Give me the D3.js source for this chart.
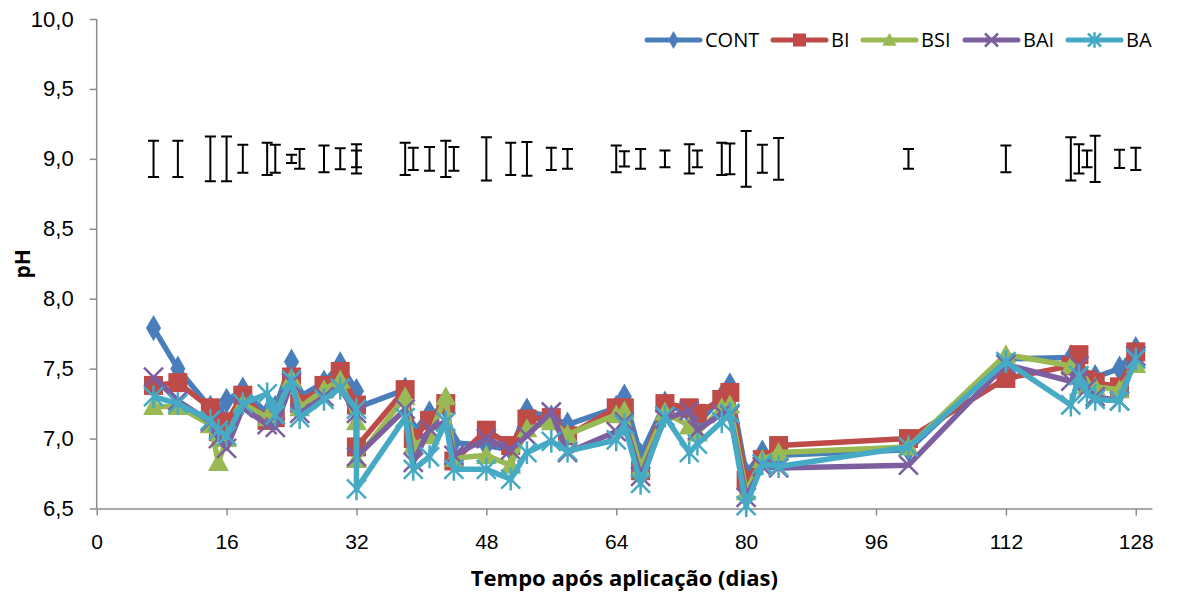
<!DOCTYPE html>
<html>
<head>
<meta charset="utf-8">
<script src="https://cdn.jsdelivr.net/npm/d3@7"></script>
<style>
  body { margin: 0; background: #fff; }
  svg { display: block; font-family: "Open Sans", "Noto Sans", sans-serif; }
  .axis path, .axis line { stroke: #8c8c8c; stroke-width: 1.5; }
  .axis text { fill: #000; }
  .y-axis text { font-size: 22px; }
  .x-axis text { font-size: 21px; }
</style>
</head>
<body>
<div class="chart"></div>
<script>
// sampling days (day 32 was sampled twice)
const days = [7, 10, 14, 15, 16, 18, 21, 22, 24, 25, 28, 30, 32, 32, 38, 39, 41, 43, 44, 48,
  51, 53, 56, 58, 64, 65, 67, 70, 73, 74, 77, 78, 80, 82, 84, 100, 112, 120, 121, 122, 123, 126, 128];

const cont = [7.79, 7.50, 7.22, 7.18, 7.27, 7.35, 7.18, 7.22, 7.55, 7.30, 7.40, 7.53, 7.34, 7.22, 7.35, 7.05, 7.18, 7.22, 6.97, 6.95,
  6.92, 7.20, 7.15, 7.10, 7.22, 7.30, 6.88, 7.25, 7.18, 7.10, 7.30, 7.38, 6.75, 6.90, 6.88, 6.92, 7.57, 7.58, 7.50, 7.42, 7.44, 7.50, 7.64];
const bi = [7.38, 7.40, 7.22, 7.05, 7.12, 7.31, 7.13, 7.15, 7.44, 7.25, 7.38, 7.48, 7.24, 6.94, 7.35, 7.00, 7.13, 7.25, 6.84, 7.06,
  6.95, 7.14, 7.15, 7.02, 7.22, 7.22, 6.77, 7.25, 7.22, 7.18, 7.28, 7.33, 6.70, 6.85, 6.95, 7.00, 7.43, 7.52, 7.60, 7.42, 7.40, 7.37, 7.62];
const bsi = [7.23, 7.23, 7.10, 6.83, 7.00, 7.25, 7.15, 7.17, 7.43, 7.22, 7.35, 7.42, 7.12, 6.85, 7.30, 6.95, 7.02, 7.30, 6.86, 6.88,
  6.81, 7.07, 7.12, 7.03, 7.17, 7.20, 6.79, 7.19, 7.09, 7.04, 7.22, 7.24, 6.62, 6.85, 6.90, 6.94, 7.60, 7.52, 7.45, 7.38, 7.37, 7.35, 7.53];
const bai = [7.44, 7.27, 7.12, 7.00, 6.93, 7.22, 7.10, 7.08, 7.40, 7.18, 7.30, 7.36, 7.18, 6.87, 7.21, 6.83, 7.07, 7.12, 6.88, 7.00,
  6.92, 7.02, 7.19, 6.90, 7.05, 7.12, 6.73, 7.14, 7.20, 7.06, 7.18, 7.17, 6.58, 6.80, 6.79, 6.81, 7.53, 7.41, 7.52, 7.36, 7.30, 7.27, 7.59];
const ba = [7.30, 7.25, 7.13, 7.06, 7.02, 7.25, 7.32, 7.17, 7.42, 7.15, 7.28, 7.36, 7.21, 6.64, 7.15, 6.78, 6.87, 7.12, 6.78, 6.78,
  6.71, 6.90, 6.98, 6.91, 6.99, 7.10, 6.68, 7.16, 6.90, 6.96, 7.12, 7.18, 6.52, 6.82, 6.80, 6.94, 7.55, 7.24, 7.45, 7.32, 7.28, 7.27, 7.57];

// error bars drawn around pH 9,0
const errDays = [7, 10, 14, 16, 18, 21, 22, 24, 25, 28, 30, 32, 32, 38, 39, 41, 43, 44, 48, 51, 53,
  56, 58, 64, 65, 67, 70, 73, 74, 77, 78, 80, 82, 84, 100, 112, 120, 121, 122, 123, 126, 128];
const errHalf = [0.13, 0.13, 0.16, 0.16, 0.10, 0.115, 0.10, 0.03, 0.07, 0.095, 0.075, 0.105, 0.06, 0.115, 0.08, 0.085, 0.13, 0.085, 0.155, 0.115, 0.12,
  0.08, 0.07, 0.095, 0.055, 0.07, 0.06, 0.105, 0.06, 0.115, 0.11, 0.20, 0.10, 0.15, 0.07, 0.095, 0.155, 0.105, 0.06, 0.165, 0.065, 0.08];
const errCenter = 9.0;

const seriesNames = ["CONT", "BI", "BSI", "BAI", "BA"];
const seriesValues = [cont, bi, bsi, bai, ba];
const seriesColors = ["#4a7ebb", "#be4b48", "#98b954", "#7d5fa0", "#46aac5"];
const seriesMarkers = ["diamond", "square", "triangle", "x", "star"];

const yTicks = [6.5, 7.0, 7.5, 8.0, 8.5, 9.0, 9.5, 10.0];
const xTicks = [0, 16, 32, 48, 64, 80, 96, 112, 128];

const width = 1185, height = 594;
const svg = d3.select(".chart").append("svg")
    .attr("width", width)
    .attr("height", height);

const xScale = d3.scaleLinear().domain([0, 130]).range([96.7, 1152]);
const yScale = d3.scaleLinear().domain([6.5, 10]).range([508.5, 19]);

// axes
const yAxis = d3.axisLeft(yScale)
    .tickValues(yTicks)
    .tickSize(7)
    .tickPadding(16)
    .tickFormat(d => d3.format(".1f")(d).replace(".", ","));
svg.append("g")
    .attr("class", "axis y-axis")
    .attr("transform", "translate(" + xScale(0) + ",0)")
    .call(yAxis)
    .call(g => g.select(".domain").attr("d", "M0," + yScale(10) + "V" + yScale(6.5)));

const xAxis = d3.axisBottom(xScale)
    .tickValues(xTicks)
    .tickSize(7)
    .tickPadding(14)
    .tickSizeOuter(0);
svg.append("g")
    .attr("class", "axis x-axis")
    .attr("transform", "translate(0," + yScale(6.5) + ")")
    .call(xAxis)
    .call(g => g.selectAll(".tick text").attr("dy", "0.95em"));

svg.append("text")
    .attr("x", (xScale(0) + xScale(130)) / 2)
    .attr("y", 586)
    .attr("text-anchor", "middle")
    .style("font-size", "22px")
    .style("font-weight", "bold")
    .text("Tempo após aplicação (dias)");

svg.append("text")
    .attr("transform", "translate(30," + yScale(8.25) + ") rotate(-90)")
    .attr("text-anchor", "middle")
    .style("font-size", "21px")
    .style("font-weight", "bold")
    .text("pH");

// marker drawing
function drawMarker(g, type, color, s) {
    if (type === "diamond") {
        g.append("path").attr("d", d3.symbol(d3.symbolDiamond, s * s * 0.55)())
            .attr("fill", color);
    } else if (type === "square") {
        g.append("rect").attr("x", -s / 2).attr("y", -s / 2).attr("width", s).attr("height", s)
            .attr("fill", color);
    } else if (type === "triangle") {
        g.append("path").attr("d", "M0," + (-s * 0.55) + "L" + (s * 0.55) + "," + (s * 0.45) + "L" + (-s * 0.55) + "," + (s * 0.45) + "Z")
            .attr("fill", color);
    } else if (type === "x") {
        const h = s / 2;
        g.append("path").attr("d", "M" + (-h) + "," + (-h) + "L" + h + "," + h + "M" + (-h) + "," + h + "L" + h + "," + (-h))
            .attr("stroke", color).attr("stroke-width", 2.5);
    } else {
        const h = s / 2;
        g.append("path").attr("d", "M" + (-h) + "," + (-h) + "L" + h + "," + h + "M" + (-h) + "," + h + "L" + h + "," + (-h) +
            "M0," + (-h * 1.2) + "V" + (h * 1.2))
            .attr("stroke", color).attr("stroke-width", 2.5);
    }
}

const line = d3.line()
    .x(d => xScale(d[0]))
    .y(d => yScale(d[1]));

seriesValues.forEach((vals, i) => {
    const pts = days.map((d, j) => [d, vals[j]]);
    const g = svg.append("g").attr("class", "series");
    g.append("path")
        .datum(pts)
        .attr("d", line)
        .attr("fill", "none")
        .attr("stroke", seriesColors[i])
        .attr("stroke-width", 5.5)
        .attr("stroke-linejoin", "round");
    g.selectAll("g.mark")
        .data(pts)
        .enter()
        .append("g")
        .attr("class", "mark")
        .attr("transform", d => "translate(" + xScale(d[0]) + "," + yScale(d[1]) + ")")
        .each(function() { drawMarker(d3.select(this), seriesMarkers[i], seriesColors[i], 19); });
});

// error bars
const eb = svg.append("g").attr("class", "errbars")
    .attr("stroke", "#000").attr("stroke-width", 2).attr("fill", "none");
errDays.forEach((d, i) => {
    const x = xScale(d), y0 = yScale(errCenter - errHalf[i]), y1 = yScale(errCenter + errHalf[i]);
    eb.append("path").attr("d", "M" + x + "," + y0 + "V" + y1 +
        "M" + (x - 5.5) + "," + y0 + "H" + (x + 5.5) +
        "M" + (x - 5.5) + "," + y1 + "H" + (x + 5.5));
});

// legend
const legendX = [647, 773, 863, 965, 1068];
const legend = svg.append("g").attr("class", "legend");
seriesNames.forEach((name, i) => {
    const g = legend.append("g").attr("transform", "translate(" + legendX[i] + ",40)");
    g.append("line").attr("x1", 0).attr("x2", 53).attr("y1", 0).attr("y2", 0)
        .attr("stroke", seriesColors[i]).attr("stroke-width", 5).attr("stroke-linecap", "round");
    const m = g.append("g").attr("transform", "translate(26.5,0)");
    drawMarker(m, seriesMarkers[i], seriesColors[i], 13);
    g.append("text").attr("x", 58).attr("y", 0).attr("dy", "0.35em")
        .style("font-size", "20px").text(name);
});
</script>
</body>
</html>
